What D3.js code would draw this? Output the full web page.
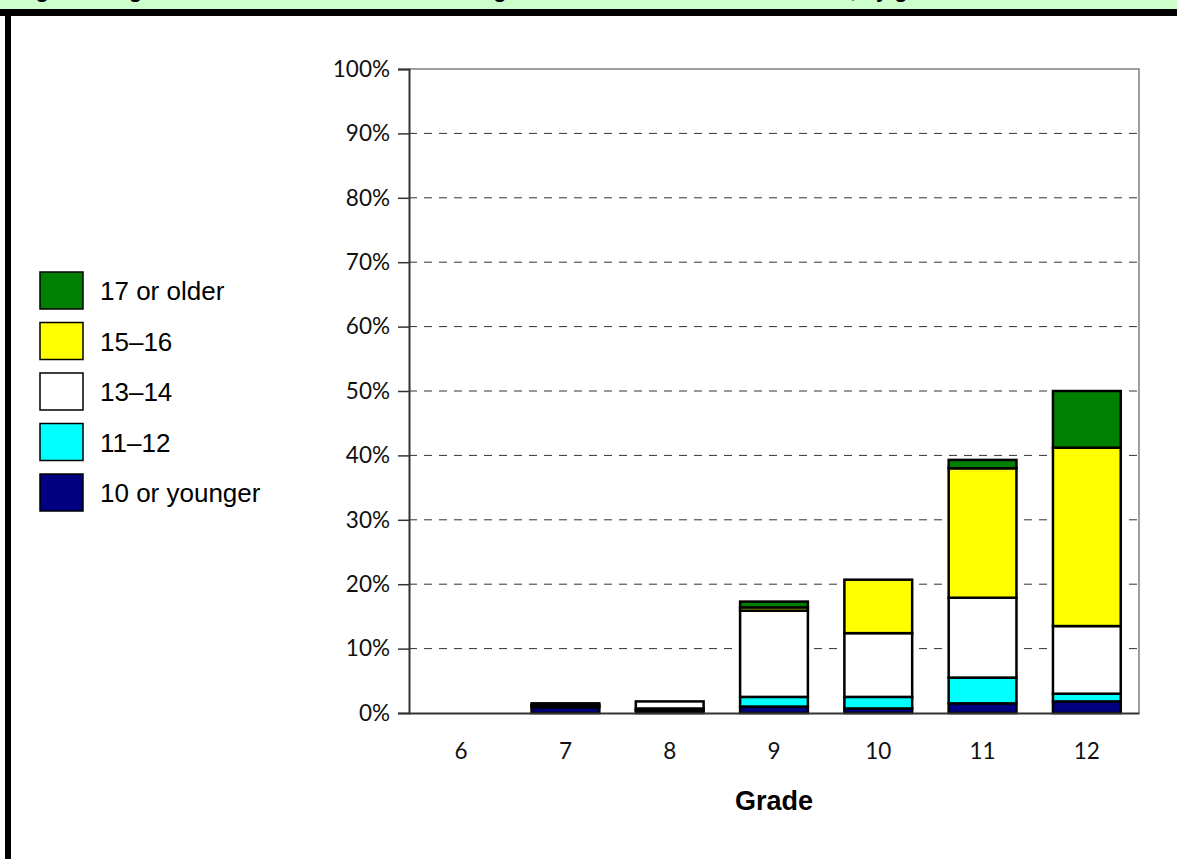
<!DOCTYPE html>
<html>
<head>
<meta charset="utf-8">
<script src="https://cdn.jsdelivr.net/npm/d3@7"></script>
<style>
    body { margin: 0; background: #fff; }
    svg { display: block; }
    .tick-label { font-family: Lato, "DejaVu Sans", sans-serif; font-size: 22.5px; fill: #111; }
    .legend-label { font-family: "Liberation Sans", Arial, sans-serif; font-size: 26px; fill: #000; }
    .axis-title { font-family: "Liberation Sans", Arial, sans-serif; font-size: 27px; font-weight: bold; }
</style>
</head>
<body>
<div id="chart"></div>
<script>
// Data (percent of students, by grade)
var grades = ["6", "7", "8", "9", "10", "11", "12"];
var ageGroups = ["10 or younger", "11\u201312", "13\u201314", "15\u201316", "17 or older"];
var age10OrYounger = [0, 0.9, 0.4, 1.0, 0.7, 1.5, 1.8];
var age11to12 = [0, 0.3, 0.3, 1.5, 1.8, 4.0, 1.2];
var age13to14 = [0, 0.3, 1.1, 13.4, 9.9, 12.4, 10.5];
var age15to16 = [0, 0, 0, 0.5, 8.3, 20.1, 27.7];
var age17OrOlder = [0, 0, 0, 0.9, 0, 1.3, 8.8];
var yTicks = [0, 10, 20, 30, 40, 50, 60, 70, 80, 90, 100];
var colors = ["#000080", "#00ffff", "#ffffff", "#ffff00", "#008000"];

var width = 1177;
var height = 859;
var plot = { left: 409, right: 1139, top: 69, bottom: 713 };

var svg = d3.select("#chart").append("svg")
    .attr("width", width)
    .attr("height", height);

// header band, title is cut off at the top edge as in the source
svg.append("rect")
    .attr("x", 0).attr("y", 0)
    .attr("width", width).attr("height", 10)
    .attr("fill", "#ccffcc");

svg.append("text")
    .attr("x", 16)
    .attr("y", -3)
    .style("font-family", "Liberation Sans, Arial, sans-serif")
    .style("font-size", "22px")
    .style("font-weight", "bold")
    .text("Figure 7. Age at first sexual intercourse among students who have ever had sex, by grade");

svg.append("rect")
    .attr("x", 0).attr("y", 9)
    .attr("width", width).attr("height", 7)
    .attr("fill", "#000");

svg.append("rect")
    .attr("x", 5).attr("y", 9)
    .attr("width", 6).attr("height", height - 9)
    .attr("fill", "#000");

// Scales
var x = d3.scaleBand()
    .domain(grades)
    .range([plot.left, plot.right])
    .paddingInner(0.35)
    .paddingOuter(0.175);

var y = d3.scaleLinear()
    .domain([0, 100])
    .range([plot.bottom, plot.top]);

// Gridlines
svg.append("g")
    .selectAll("line")
    .data(yTicks.filter(function(d) { return d > 0 && d < 100; }))
    .enter()
    .append("line")
    .attr("x1", plot.left)
    .attr("x2", plot.right)
    .attr("y1", function(d) { return y(d); })
    .attr("y2", function(d) { return y(d); })
    .attr("stroke", "#333")
    .attr("stroke-width", 1)
    .attr("stroke-dasharray", "8,7");

// plot area border (top, right)
svg.append("path")
    .attr("d", "M" + plot.left + "," + y(100) + "H" + plot.right + "V" + plot.bottom)
    .attr("fill", "none")
    .attr("stroke", "#808080")
    .attr("stroke-width", 1.5);

// Stacked bars
var series = [age10OrYounger, age11to12, age13to14, age15to16, age17OrOlder];
var rows = grades.map(function(g, i) {
    var row = { grade: g };
    ageGroups.forEach(function(a, j) { row[a] = series[j][i]; });
    return row;
});
var stacked = d3.stack().keys(ageGroups)(rows);

svg.append("g")
    .selectAll("g")
    .data(stacked)
    .enter()
    .append("g")
    .attr("fill", function(d, i) { return colors[i]; })
    .selectAll("rect")
    .data(function(d) { return d.filter(function(s) { return s[1] > s[0]; }); })
    .enter()
    .append("rect")
    .attr("x", function(d) { return x(d.data.grade); })
    .attr("width", x.bandwidth())
    .attr("y", function(d) { return y(d[1]); })
    .attr("height", function(d) { return y(d[0]) - y(d[1]); })
    .attr("stroke", "#000")
    .attr("stroke-width", 2.5);

// Y axis
var yAxis = svg.append("g")
    .attr("transform", "translate(" + plot.left + ",0)")
    .call(d3.axisLeft(y)
        .tickValues(yTicks)
        .tickSize(11)
        .tickPadding(8)
        .tickFormat(function(d) { return d + "%"; }));
yAxis.select(".domain").attr("stroke", "#333").attr("stroke-width", 2);
yAxis.selectAll(".tick line").attr("stroke", "#333").attr("stroke-width", 1.5);
yAxis.selectAll(".tick text").attr("class", "tick-label").attr("font-family", null).attr("font-size", null);

// X axis
var xAxis = svg.append("g")
    .attr("transform", "translate(0," + plot.bottom + ")")
    .call(d3.axisBottom(x).tickSize(0).tickPadding(30));
xAxis.select(".domain").attr("stroke", "#333").attr("stroke-width", 2);
xAxis.selectAll(".tick text").attr("class", "tick-label").attr("font-family", null).attr("font-size", null);

svg.append("text")
    .attr("class", "axis-title")
    .attr("x", (plot.left + plot.right) / 2)
    .attr("y", 810)
    .attr("text-anchor", "middle")
    .text("Grade");

// Legend (oldest first)
var legend = svg.append("g")
    .selectAll("g")
    .data(ageGroups.slice().reverse())
    .enter()
    .append("g")
    .attr("transform", function(d, i) { return "translate(40," + (272 + i * 50.5) + ")"; });

legend.append("rect")
    .attr("width", 43)
    .attr("height", 37)
    .attr("fill", function(d) { return colors[ageGroups.indexOf(d)]; })
    .attr("stroke", "#000")
    .attr("stroke-width", 1.5);

legend.append("text")
    .attr("class", "legend-label")
    .attr("x", 60)
    .attr("y", 28)
    .text(function(d) { return d; });
</script>
</body>
</html>
